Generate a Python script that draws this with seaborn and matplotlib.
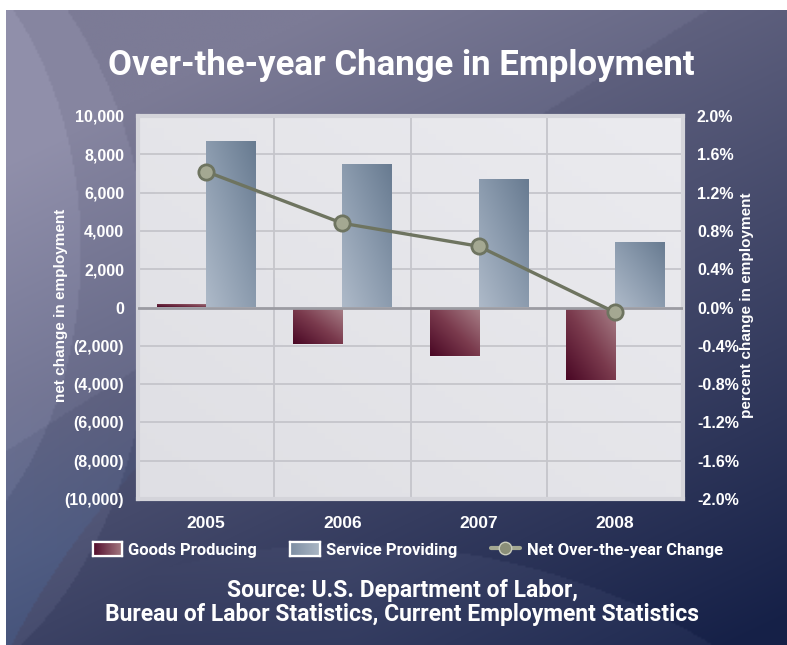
import numpy as np
import pandas as pd
import matplotlib
matplotlib.use("Agg")
import matplotlib.pyplot as plt
from matplotlib.colors import LinearSegmentedColormap, to_rgb
from matplotlib.patches import Patch
from matplotlib.lines import Line2D
import seaborn as sns

# ---- data ----
years = ["2005", "2006", "2007", "2008"]
goods_producing = [200, -1900, -2550, -3800]
service_providing = [8700, 7500, 6700, 3400]
net_change_pct = [1.42, 0.88, 0.64, -0.05]

left_ticks = [10000, 8000, 6000, 4000, 2000, 0, -2000, -4000, -6000, -8000, -10000]
right_ticks = [2.0, 1.6, 1.2, 0.8, 0.4, 0.0, -0.4, -0.8, -1.2, -1.6, -2.0]

series_names = ["Goods Producing", "Service Providing"]
line_name = "Net Over-the-year Change"
title = "Over-the-year Change in Employment"
left_label = "net change in employment"
right_label = "percent change in employment"
source_lines = ["Source: U.S. Department of Labor,",
                "Bureau of Labor Statistics, Current Employment Statistics"]

# ---- style ----
sns.set_theme(style="white")
HEAD = ["Roboto", "Liberation Sans", "DejaVu Sans"]
REG = ["Liberation Sans", "DejaVu Sans"]
plt.rcParams["font.family"] = REG

W, H = 787, 645
fig = plt.figure(figsize=(W / 100, H / 100), dpi=100, facecolor="white")

# ---- background panel: vertical-diagonal gradient with soft swooshes ----
bg = fig.add_axes([0, 0, 1, 1], zorder=-10)
bg.set_axis_off()
ny, nx = 320, 400
yy, xx = np.mgrid[0:ny, 0:nx]
px = 6 + xx / (nx - 1) * (W - 6)
py = 10 + yy / (ny - 1) * (H - 10)
xn, yn = px / W, py / H
t = np.clip(0.78 * yn + 0.45 * xn - 0.2, 0, 1)
c_top = np.array(to_rgb("#7c7b96"))
c_bot = np.array(to_rgb("#1d284f"))
img = c_top[None, None, :] * (1 - t[..., None]) + c_bot[None, None, :] * t[..., None]
# lighter sweeps along the left edge
light1 = ((px + 150) / 230) ** 2 + ((py - 250) / 340) ** 2 < 1
light2 = ((px + 150) / 300) ** 2 + ((py - 300) / 420) ** 2 < 1
img += 0.04 * light2[..., None] + 0.04 * light1[..., None]
# bluer, lighter region outside a large arc in the lower left
d_arc = np.hypot(px - 700, py - 1000)
lower_left = (d_arc > 775) * np.clip((350 - px) / 200, 0, 1) * np.clip((py - 400) / 150, 0, 1)
img += lower_left[..., None] * np.array([0.0, 0.03, 0.05])[None, None, :]
# darker wedge beyond a diagonal edge at the upper right
edge = (py - 10) + 0.629 * (px - 707)
img -= (0.03 * (edge > 0))[..., None]
# faint lighter sweep along the bottom
d_low = np.hypot(px - 350, py - 1250)
img += (0.035 * (d_low < 705) * np.clip((px - 150) / 200, 0, 1))[..., None]
img = np.clip(img, 0, 1)
bg.imshow(img, extent=(6, W, H, 10), aspect="auto", interpolation="bilinear")
bg.set_xlim(0, W)
bg.set_ylim(H, 0)

# ---- main axes ----
L, R, T, B = 138, 683, 116, 499
ax = fig.add_axes([L / W, 1 - B / H, (R - L) / W, (B - T) / H])

df = pd.DataFrame({
    "year": years * 2,
    "value": goods_producing + service_providing,
    "series": [series_names[0]] * len(years) + [series_names[1]] * len(years),
})
goods_mid, service_mid = "#7a3a4e", "#8898ab"
sns.barplot(data=df, x="year", y="value", hue="series", hue_order=series_names,
            palette={series_names[0]: goods_mid, series_names[1]: service_mid},
            width=0.72, ax=ax, legend=False, zorder=3, saturation=1)

# plot face
g = np.linspace(0, 1, 64)
face = (g[None, :] + g[:, None]) / 2
face_cmap = LinearSegmentedColormap.from_list("face", ["#dfdfe4", "#ebebef"])
ax.imshow(face, extent=(0, 1, 0, 1), transform=ax.transAxes, cmap=face_cmap,
          aspect="auto", zorder=0, origin="lower")

# gradient fill for bars
goods_cmap = LinearSegmentedColormap.from_list("goods", ["#4a0825", "#7a3a4d", "#a88088"])
service_cmap = LinearSegmentedColormap.from_list("service", ["#adb9c8", "#8b9bae", "#687b91"])
g = np.linspace(0, 1, 40)
grad = (g[None, :] + g[:, None]) / 2
goods_rgb = np.array(to_rgb(goods_mid))
for p in list(ax.patches):
    fc = np.array(p.get_facecolor()[:3])
    cmap = goods_cmap if np.allclose(fc, goods_rgb, atol=0.02) else service_cmap
    x0, y0 = p.get_x(), p.get_y()
    w, h = p.get_width(), p.get_height()
    yb, yt = min(y0, y0 + h), max(y0, y0 + h)
    if yt - yb <= 0:
        continue
    im = ax.imshow(grad, extent=(x0, x0 + w, yb, yt), cmap=cmap, origin="lower",
                   aspect="auto", interpolation="bicubic", zorder=3)
    im.set_clip_path(p)
    p.set_facecolor("none")
    p.set_edgecolor("#ffffff40")
    p.set_linewidth(0.6)

ax.set_xlim(-0.5, len(years) - 0.5)
ax.set_ylim(left_ticks[-1], left_ticks[0])
ax.set_aspect("auto")

# grid
for yv in left_ticks[1:-1]:
    if yv != 0:
        ax.axhline(yv, color="#c5c5cb", lw=1.3, zorder=1)
for xv in np.arange(len(years) - 1) + 0.5:
    ax.axvline(xv, color="#c5c5cb", lw=1.3, zorder=1)
ax.axhline(0, color="#9b9ba2", lw=2, zorder=4)

for s in ax.spines.values():
    s.set_color("#d4d4da")
    s.set_linewidth(3)

def fmt_left(v):
    return f"({abs(v):,})" if v < 0 else f"{v:,}"

ax.set_yticks(left_ticks)
ax.set_yticklabels([fmt_left(v) for v in left_ticks])
ax.tick_params(axis="y", length=0, pad=10, labelsize=11.5, labelcolor="white")
ax.tick_params(axis="x", length=0, pad=12, labelsize=12.5, labelcolor="white")
for lab in ax.get_yticklabels() + ax.get_xticklabels():
    lab.set_fontweight("bold")
ax.set_xlabel("")
ax.set_ylabel("")
ax.grid(False)

# secondary axis with the net change line
ax2 = ax.twinx()
sns.lineplot(x=np.arange(len(years)), y=net_change_pct, ax=ax2, color="#6e7460",
             lw=2.4, marker="o", markersize=11, markerfacecolor="#a4a892",
             markeredgecolor="#6e7460", markeredgewidth=2, zorder=6)
ax2.set_ylim(right_ticks[-1], right_ticks[0])
ax2.set_yticks(right_ticks)
ax2.set_yticklabels([f"{v:.1f}%" for v in right_ticks])
ax2.tick_params(axis="y", length=0, pad=10, labelsize=11.5, labelcolor="white")
for lab in ax2.get_yticklabels():
    lab.set_fontweight("bold")
ax2.set_ylabel("")
for s in ax2.spines.values():
    s.set_visible(False)
ax2.grid(False)

# axis titles
fig.text(61 / W, 1 - 305 / H, left_label, rotation=90, color="white", fontsize=11,
         fontweight="bold", ha="center", va="center")
fig.text(747 / W, 1 - 305 / H, right_label, rotation=90, color="white", fontsize=11,
         fontweight="bold", ha="center", va="center")

# title
fig.text(0.510, 1 - 65 / H, title, color="white", fontsize=25, fontweight="bold",
         family=HEAD, ha="center", va="center")

# legend
handles = [
    Patch(facecolor=goods_mid, edgecolor="white", linewidth=1.6),
    Patch(facecolor=service_mid, edgecolor="white", linewidth=1.6),
    Line2D([0], [0], color="#a4a892", lw=3, marker="o", markersize=9,
           markerfacecolor="#8a8e78", markeredgecolor="#c9ccbc", markeredgewidth=1),
]
leg = fig.legend(handles, series_names + [line_name], loc="center",
                 bbox_to_anchor=(0.518, 1 - 550 / H), ncol=3, frameon=False,
                 handlelength=1.75, handleheight=0.9, handletextpad=0.4,
                 columnspacing=2.0, prop={"family": HEAD, "weight": "bold", "size": 12})
for txt in leg.get_texts():
    txt.set_color("white")

# gradient swatches laid over the legend boxes
fig.canvas.draw()
renderer = fig.canvas.get_renderer()
swatch = g[None, :].repeat(2, axis=0)
swatch_maps = [
    LinearSegmentedColormap.from_list("gs", ["#540d2c", "#a57b83"]),
    LinearSegmentedColormap.from_list("ss", ["#7d8ea3", "#aab6c4"]),
]
for patch, cm in zip(leg.get_patches(), swatch_maps):
    bb = patch.get_window_extent(renderer)
    sax = fig.add_axes([bb.x0 / W, bb.y0 / H, bb.width / W, bb.height / H], zorder=6)
    sax.imshow(swatch, cmap=cm, aspect="auto", interpolation="bilinear")
    sax.set_xticks([])
    sax.set_yticks([])
    for s in sax.spines.values():
        s.set_color("white")
        s.set_linewidth(1.6)

# source note
fig.text(0.511, 1 - 590 / H, source_lines[0], color="white", fontsize=16.5,
         fontweight="bold", family=HEAD, ha="center", va="center")
fig.text(0.511, 1 - 614 / H, source_lines[1], color="white", fontsize=16.5,
         fontweight="bold", family=HEAD, ha="center", va="center")

fig.savefig("out.png", dpi=100, facecolor="white")
